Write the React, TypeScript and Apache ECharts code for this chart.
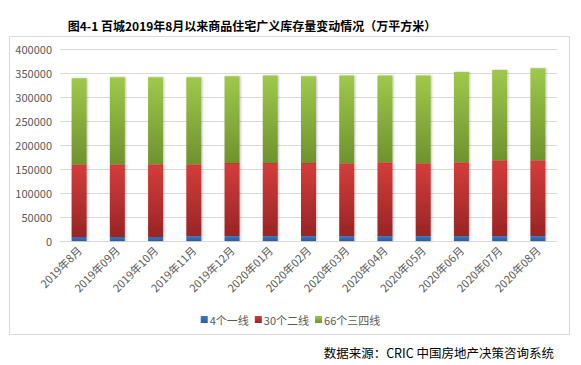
import React, { useEffect, useRef } from "react";
import * as echarts from "echarts";

const categories = [
  "2019年8月", "2019年09月", "2019年10月", "2019年11月", "2019年12月",
  "2020年01月", "2020年02月", "2020年03月", "2020年04月", "2020年05月",
  "2020年06月", "2020年07月", "2020年08月",
];
const tier1 = [8300, 8300, 8300, 10200, 10200, 10200, 10200, 10200, 10200, 10200, 10200, 10200, 10200];
const tier2 = [151500, 151500, 151500, 149600, 152300, 152300, 152300, 151700, 153800, 151700, 153800, 157800, 157800];
const tier34 = [179200, 181200, 181200, 181200, 180500, 182500, 180500, 183100, 181000, 183100, 188000, 188000, 192000];
const seriesNames = ["4个一线", "30个二线", "66个三四线"];
const yTicks = { min: 0, max: 400000, interval: 50000 };

const grad = (top: string, bottom: string) =>
  new echarts.graphic.LinearGradient(0, 0, 0, 1, [
    { offset: 0, color: top },
    { offset: 1, color: bottom },
  ]);

export default function App() {
  const ref = useRef<HTMLDivElement>(null);
  useEffect(() => {
    if (!ref.current) return;
    const chart = echarts.init(ref.current, null, { renderer: "svg" });
    const font = "'Noto Sans CJK SC', 'Noto Sans', sans-serif";
    const barStyle = (top: string, bottom: string) => ({
      color: grad(top, bottom),
      shadowColor: "rgba(0,0,0,0.25)",
      shadowBlur: 2,
      shadowOffsetX: 1,
      shadowOffsetY: 0,
    });
    chart.setOption({
      animation: false,
      backgroundColor: "#ffffff",
      textStyle: { fontFamily: font },
      grid: { left: 60, right: 24, top: 49, bottom: 124, containLabel: false },
      graphic: [
        {
          type: "rect",
          shape: { x: 9.5, y: 36.5, width: 560, height: 298 },
          style: { fill: "none", stroke: "#d9d9d9", lineWidth: 1 },
          silent: true,
          z: -1,
        },
        {
          type: "text",
          x: 252,
          y: 25,
          style: {
            text: "图4-1 百城2019年8月以来商品住宅广义库存量变动情况（万平方米）",
            fontFamily: font,
            fontSize: 12,
            fontWeight: "bold",
            fill: "#000000",
            align: "center",
            verticalAlign: "middle",
          },
        },
        {
          type: "text",
          x: 554,
          y: 352,
          style: {
            text: "数据来源：CRIC 中国房地产决策咨询系统",
            fontFamily: font,
            fontSize: 12.5,
            fill: "#000000",
            align: "right",
            verticalAlign: "middle",
          },
        },
      ],
      legend: {
        data: seriesNames,
        left: "center",
        top: 309,
        icon: "rect",
        itemWidth: 7,
        itemHeight: 7,
        itemGap: 6,
        textStyle: { fontSize: 11, color: "#595959", fontFamily: font, padding: [0, 0, 0, -3] },
      },
      xAxis: {
        type: "category",
        data: categories,
        axisLine: { lineStyle: { color: "#d9d9d9" } },
        axisTick: { show: false },
        axisLabel: {
          rotate: 45,
          interval: 0,
          color: "#595959",
          fontSize: 11,
          margin: 7,
          fontFamily: font,
        },
      },
      yAxis: {
        type: "value",
        min: yTicks.min,
        max: yTicks.max,
        interval: yTicks.interval,
        axisLine: { show: false },
        axisTick: { show: false },
        splitLine: { lineStyle: { color: "#d9d9d9" } },
        axisLabel: {
          color: "#595959",
          fontSize: 11,
          margin: 8,
          fontFamily: font,
          formatter: (v: number) => String(v),
        },
      },
      series: [
        {
          name: seriesNames[0],
          type: "bar",
          stack: "total",
          barWidth: 15,
          data: tier1,
          itemStyle: barStyle("#3d78c4", "#2b5d9c"),
        },
        {
          name: seriesNames[1],
          type: "bar",
          stack: "total",
          barWidth: 15,
          data: tier2,
          itemStyle: barStyle("#d43d3a", "#982525"),
        },
        {
          name: seriesNames[2],
          type: "bar",
          stack: "total",
          barWidth: 15,
          data: tier34,
          itemStyle: barStyle("#9ec94b", "#6f922d"),
        },
      ],
    });
    return () => chart.dispose();
  }, []);
  return <div ref={ref} style={{ width: 581, height: 365, position: "absolute", left: 0, top: 0 }} />;
}
